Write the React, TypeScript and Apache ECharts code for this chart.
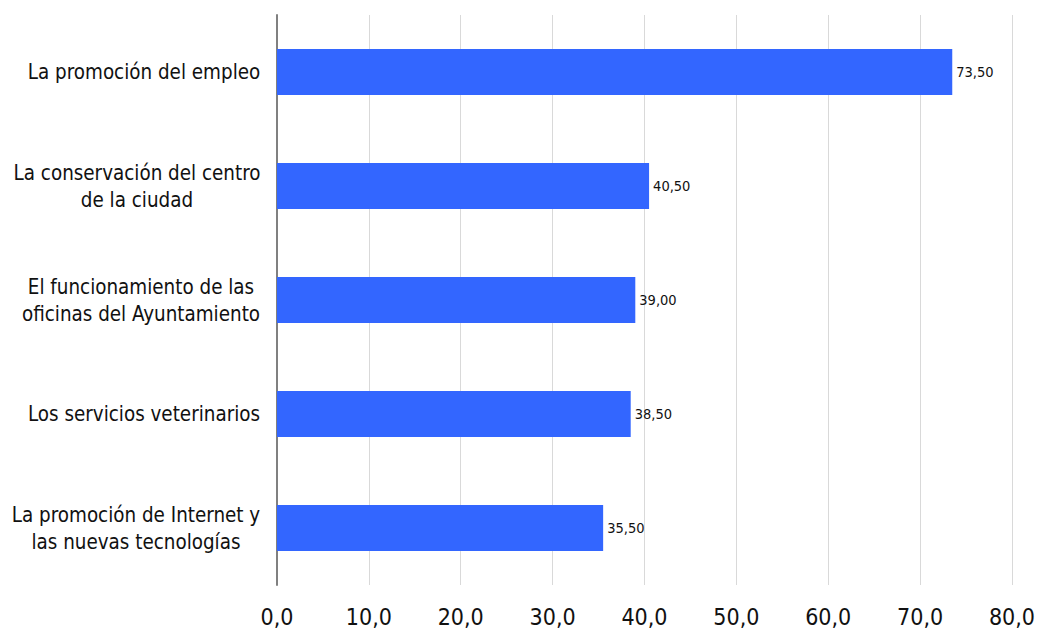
import React, { useEffect, useRef } from "react";
import * as echarts from "echarts";

const categories = [
  "La promoción del empleo",
  "La conservación del centro\nde la ciudad",
  "El funcionamiento de las\noficinas del Ayuntamiento",
  "Los servicios veterinarios",
  "La promoción de Internet y\nlas nuevas tecnologías",
];
const values = [73.5, 40.5, 39.0, 38.5, 35.5];

const FONT = "'DejaVu Sans Condensed', 'DejaVu Sans', sans-serif";
const Y_FONT_SIZE = 20.4;

const fmt = (v: number, d: number) => v.toFixed(d).replace(".", ",");

function measure(text: string, size: number) {
  const c = document.createElement("canvas").getContext("2d")!;
  c.font = `${size}px ${FONT}`;
  return c.measureText(text).width;
}

export default function App() {
  const ref = useRef<HTMLDivElement>(null);
  useEffect(() => {
    const chart = echarts.init(ref.current!, null, { renderer: "svg" });
    const rich: Record<string, any> = {};
    categories.forEach((cat, i) => {
      const w = Math.max(...cat.split("\n").map((l) => measure(l, Y_FONT_SIZE)));
      rich["r" + i] = {
        width: Math.ceil(w) + 1,
        align: "center",
        fontSize: Y_FONT_SIZE,
        lineHeight: 27,
        color: "#111",
        fontFamily: FONT,
      };
    });
    chart.setOption({
      animation: false,
      textStyle: { fontFamily: FONT },
      grid: { left: 277, right: 25, top: 15, bottom: 48, containLabel: false },
      xAxis: {
        type: "value",
        min: 0,
        max: 80,
        interval: 10,
        axisLine: { show: false },
        axisTick: { show: false },
        splitLine: { show: true, lineStyle: { color: "#d9d9d9", width: 1 } },
        axisLabel: {
          formatter: (v: number) => fmt(v, 1),
          fontSize: 23,
          color: "#111",
          margin: 20,
          fontFamily: FONT,
        },
      },
      yAxis: {
        type: "category",
        data: categories,
        inverse: true,
        axisLine: { show: true, lineStyle: { color: "#808080", width: 2 } },
        axisTick: { show: false },
        axisLabel: {
          margin: 16,
          align: "right",
          formatter: (value: string, index: number) =>
            value
              .split("\n")
              .map((l) => `{r${index}|${l}}`)
              .join("\n"),
          rich,
        },
      },
      series: [
        {
          type: "bar",
          data: values,
          barWidth: 46,
          itemStyle: { color: "#3366FF" },
          label: {
            show: true,
            position: "right",
            distance: 4,
            fontSize: 14.5,
            color: "#111",
            fontFamily: FONT,
            formatter: (p: any) => fmt(p.value, 2),
          },
        },
      ],
    });
    return () => chart.dispose();
  }, []);
  return (
    <div
      ref={ref}
      style={{ position: "fixed", left: 0, top: 0, width: 1038, height: 633, background: "#fff" }}
    />
  );
}
